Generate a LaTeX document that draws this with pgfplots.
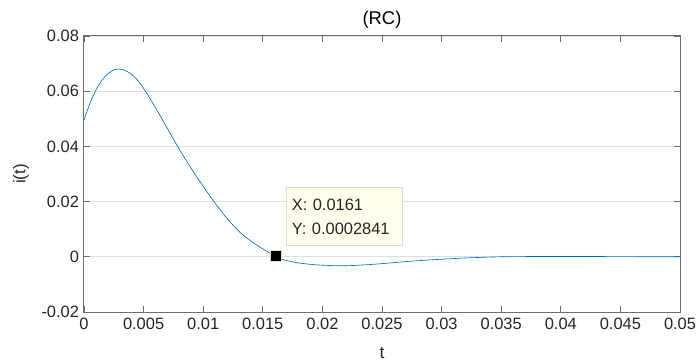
\documentclass[border=0pt]{standalone}
\usepackage{pgfplots}
\pgfplotsset{compat=1.18}
\usepackage{fontspec}
\setmainfont{Liberation Sans}
\definecolor{mblue}{rgb}{0,0.447,0.741}
\definecolor{axgray}{RGB}{38,38,38}
\definecolor{boxline}{RGB}{110,110,110}
\definecolor{tipfill}{RGB}{255,255,236}
\definecolor{tipedge}{RGB}{222,222,200}
\begin{document}
\begin{tikzpicture}
\path[use as bounding box] (-84bp,-51bp) rectangle (615bp,312bp);
\begin{axis}[
  at={(0,0)}, anchor=south west,
  scale only axis, width=596bp, height=276bp,
  xmin=0, xmax=0.05, ymin=-0.02, ymax=0.08,
  scaled ticks=false,
  xtick={0,0.005,0.01,0.015,0.02,0.025,0.03,0.035,0.04,0.045,0.05},
  xticklabels={0,0.005,0.01,0.015,0.02,0.025,0.03,0.035,0.04,0.045,0.05},
  ytick={-0.02,0,0.02,0.04,0.06,0.08},
  yticklabels={-0.02,0,0.02,0.04,0.06,0.08},
  tick align=inside,
  major tick length=6bp,
  tick style={boxline, line width=0.8bp},
  axis line style={boxline, line width=1bp},
  ymajorgrids,
  grid style={black!12, line width=0.8bp},
  ticklabel style={font=\fontsize{16.5}{19}\selectfont, text=axgray},
  yticklabel style={xshift=-1.5bp},
  xticklabel style={yshift=-3bp},
  title={(RC)},
  title style={font=\fontsize{18.5}{22}\selectfont, text=black, at={(axis description cs:0.5,1)}, anchor=base, yshift=6bp},
  xlabel={t},
  xlabel style={font=\fontsize{17.5}{20}\selectfont, text=axgray, inner sep=0.5bp, at={(axis description cs:0.5,-0.147)}, anchor=center},
  ylabel={i(t)},
  ylabel style={font=\fontsize{17}{20}\selectfont, text=axgray, at={(axis description cs:-0.1057,0.5)}, anchor=center},
]
\addplot[mblue, line width=0.65bp, smooth, tension=0.5] coordinates {
(0,0.0496)
(0.0005,0.0556)
(0.001,0.0604)
(0.0015,0.0639)
(0.002,0.0663)
(0.0025,0.0677)
(0.0029,0.0680)
(0.0034,0.0676)
(0.004,0.0661)
(0.0046,0.0634)
(0.0052,0.0597)
(0.006,0.0540)
(0.007,0.0465)
(0.0078,0.0404)
(0.0085,0.0354)
(0.0093,0.0300)
(0.0101,0.0249)
(0.01085,0.0203)
(0.0120,0.0139)
(0.0131,0.0088)
(0.0142,0.0051)
(0.0153,0.0021)
(0.0161,0.000284)
(0.0167,-0.0010)
(0.0177,-0.0020)
(0.0187,-0.0026)
(0.0198,-0.0030)
(0.0210,-0.0032)
(0.0223,-0.0032)
(0.0240,-0.0028)
(0.0255,-0.0023)
(0.0271,-0.0017)
(0.0299,-0.0009)
(0.0327,-0.0003)
(0.0350,0.0000)
(0.0380,0.0001)
(0.0420,0.0001)
(0.0460,0.00005)
(0.0500,0.0000)
};
\addplot[only marks, mark=square*, mark size=5.8bp, mark options={fill=black, draw=tipedge, line width=0.8bp}] coordinates {(0.0161,0.0002841)};
\node[anchor=south west, xshift=10bp, yshift=10bp, draw=tipedge, fill=tipfill, line width=0.8bp,
      inner xsep=5.5bp, inner ysep=0pt, text width=105bp, minimum height=58bp, align=left,
      font=\fontsize{16.5}{24.3}\selectfont, text=axgray]
  at (axis cs:0.0161,0.0002841) {X: 0.0161\\Y: 0.0002841};
\end{axis}
\end{tikzpicture}
\end{document}
